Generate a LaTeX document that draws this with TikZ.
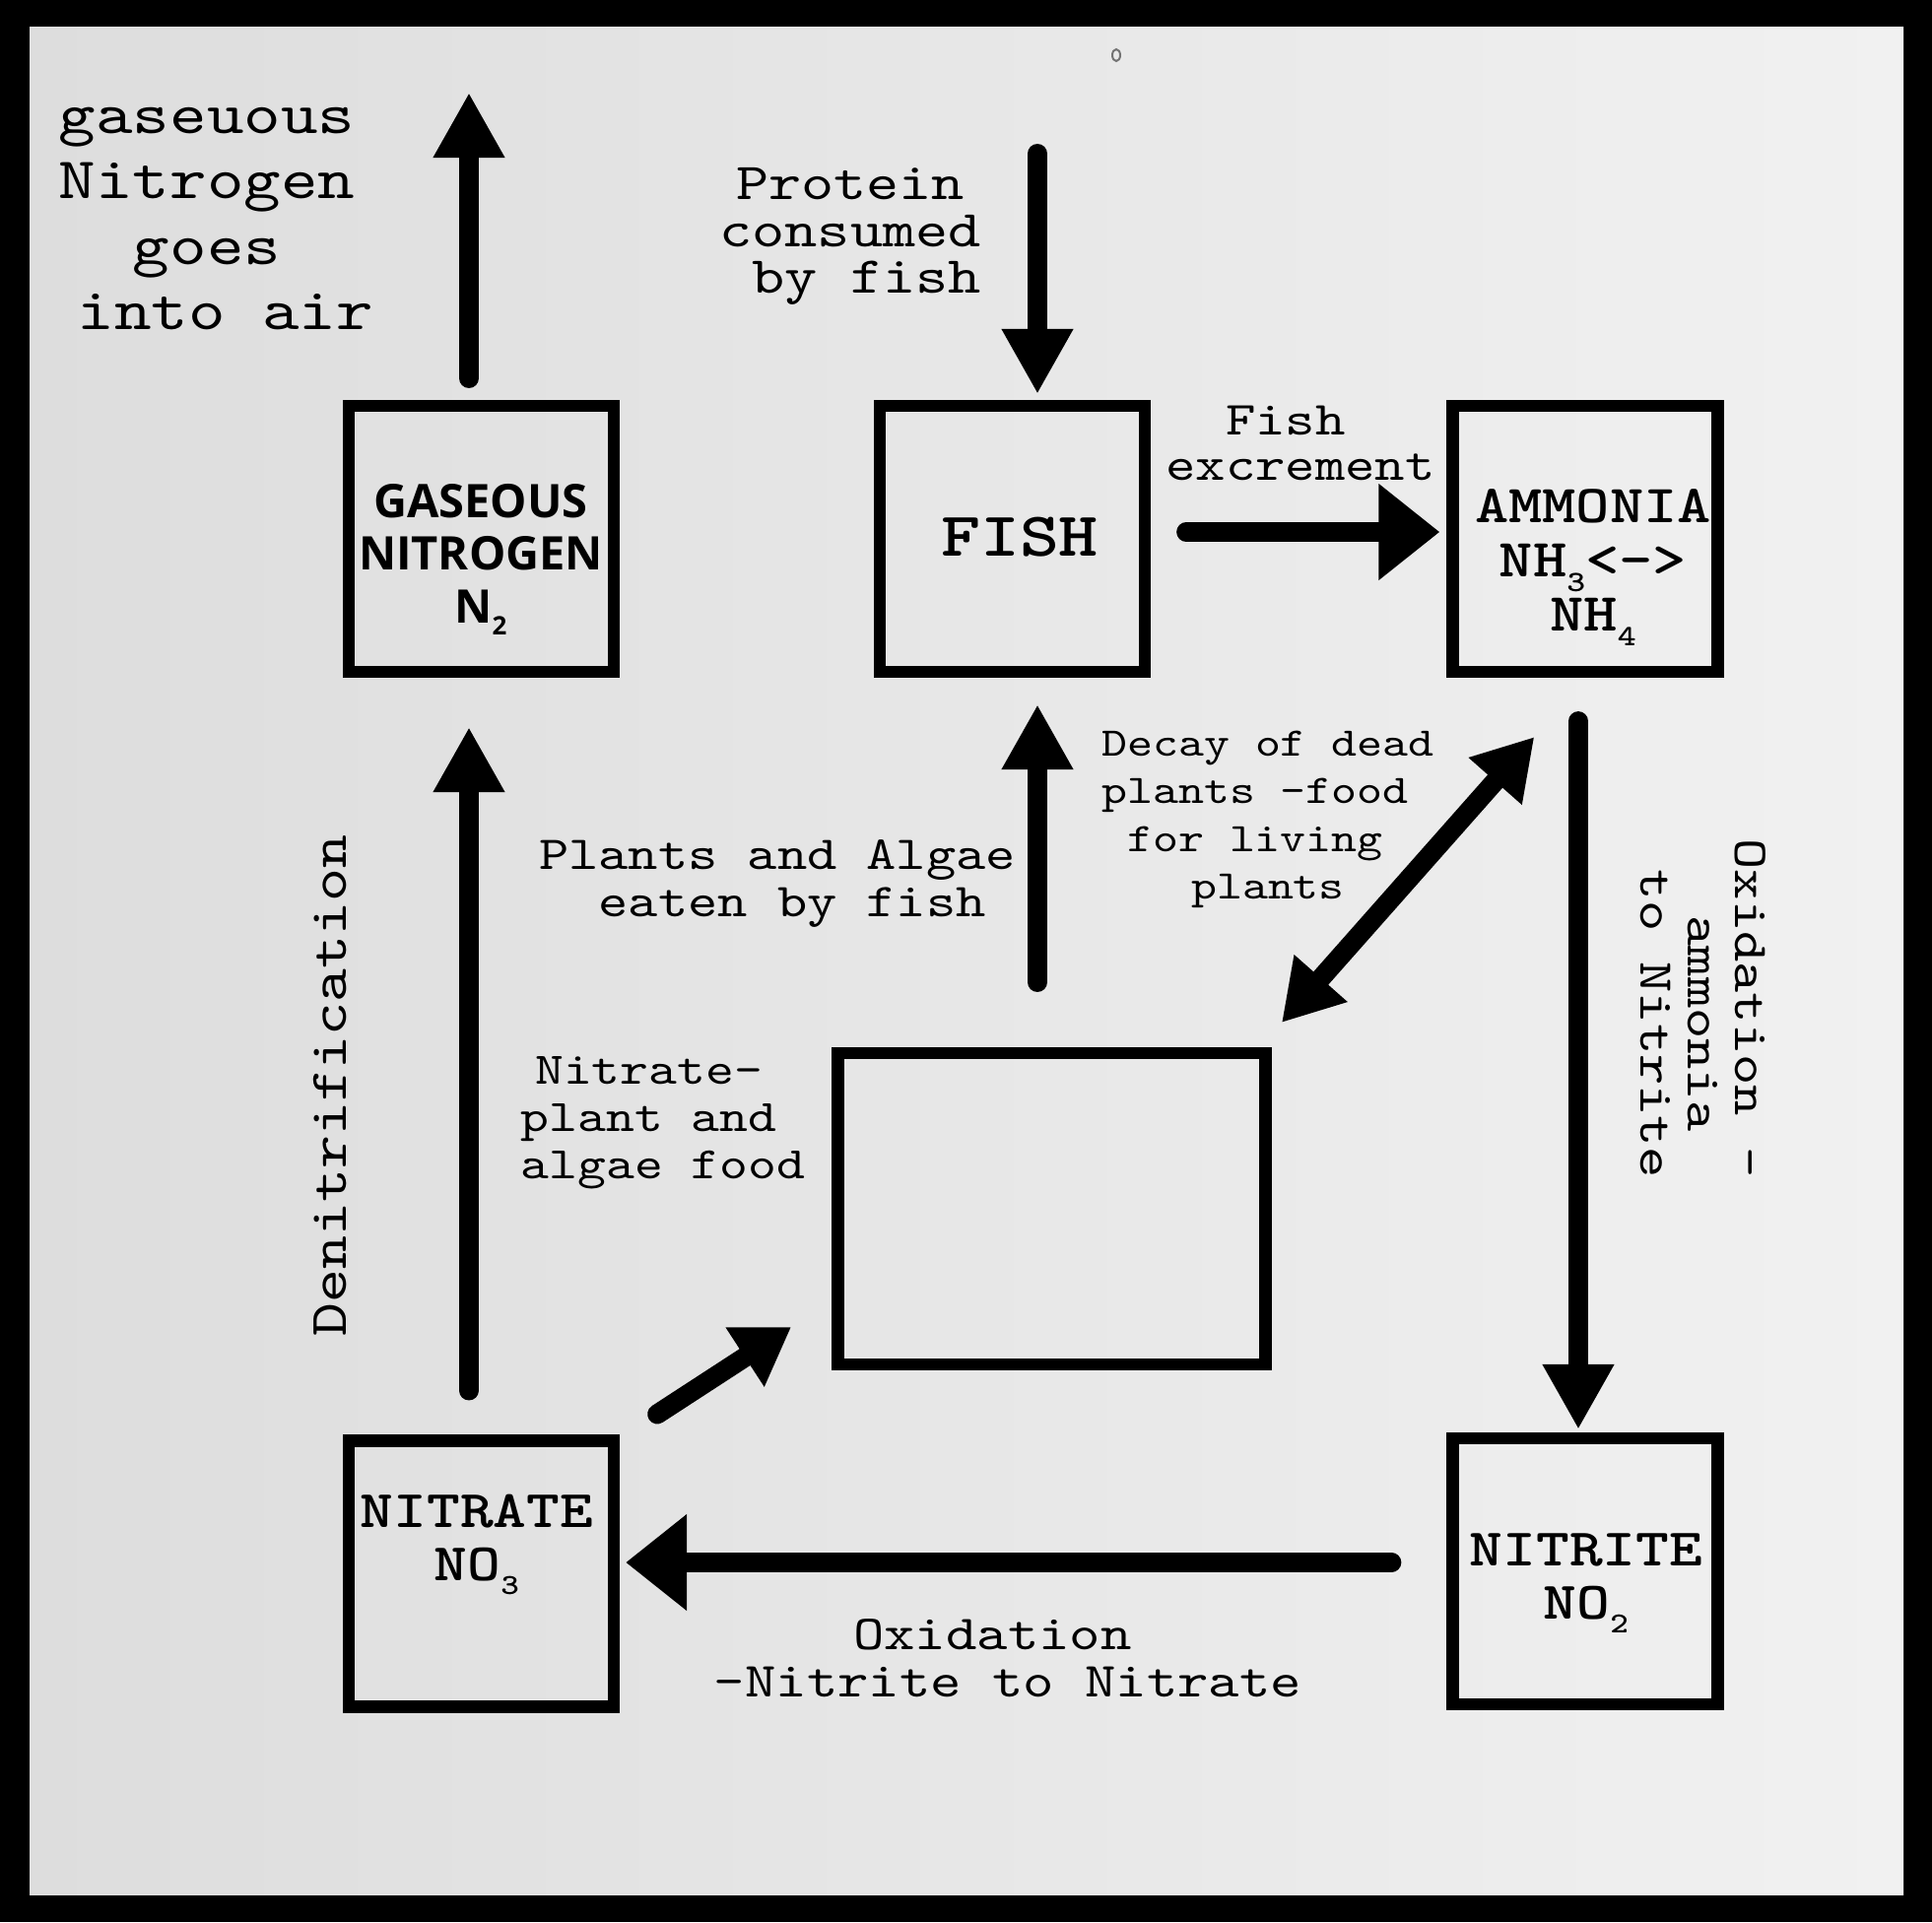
\documentclass[tikz,border=0pt]{standalone}
\usepackage{fontspec}
\usepackage{graphicx}
\usepackage{tikz}
\usetikzlibrary{arrows.meta, calc}
\newfontfamily\typefont{lmmono10-regular.otf}[FakeStretch=1.2, BoldFont=lmmonolt10-bold.otf]
\newfontfamily\gasfont{Open Sans}
\definecolor{paperdark}{RGB}{221,221,221}
\definecolor{paperlight}{RGB}{241,241,241}
\newcommand\chemsub[1]{\raisebox{-0.26em}{\scalebox{0.55}{#1}}}
\newcommand\pad{\phantom{x}}

\begin{document}
\begin{tikzpicture}[x=0.5pt, y=-0.5pt,
    box/.style={draw=black, line width=6.25pt, minimum width=134.4pt, minimum height=134.8pt, inner sep=0pt},
    flow/.style={line width=10pt, line cap=round, -{Triangle[width=34pt,length=33pt]}},
    wideflow/.style={line width=10pt, line cap=round, -{Triangle[width=47pt,length=31pt]}},
    swap/.style={line width=10pt, {Triangle[width=34pt,length=30pt]}-{Triangle[width=34pt,length=30pt]}},
    nudge/.style={line width=10pt, line cap=round, -{Triangle[width=34pt,length=28pt]}},
    note/.style={align=center, inner sep=0pt},
    boxname/.style={align=center, inner sep=0pt, font={\typefont\bfseries\fontsize{26.8}{27}\selectfont}}]
    \useasboundingbox (0,0) rectangle (1961,1951);
    \fill [black] (0,0) rectangle (1961,1951);
    \shade [left color=paperdark, right color=paperlight] (30,27) rectangle (1932,1923);
    \draw [black!55, line width=1pt] (1133,56) ellipse (4 and 6);

    \node [box] (gas) at (488.5,547) {};
    \node [box] (fish) at (1027.5,547) {};
    \node [box] (ammonia) at (1609,547) {};
    \node [box, minimum width=217.2pt, minimum height=157.8pt] (plant) at (1067.5,1227) {};
    \node [box] (nitrate) at (488.5,1597.5) {};
    \node [box] (nitrite) at (1609,1595) {};

    \node [note, font={\gasfont\bfseries\fontsize{23.5}{26.9}\selectfont}] (gasname) at (488,568) {GASEOUS\\NITROGEN\\N\chemsub{2}};
    \node [boxname, font={\typefont\bfseries\fontsize{31.7}{32}\selectfont}] (fishname) at (1035,545) {FISH};
    \node [boxname, font={\typefont\bfseries\fontsize{27.2}{27.5}\selectfont}] (ammname) at (1617,576) {AMMONIA\\NH\chemsub{3}<->\\NH\chemsub{4}};
    \node [boxname] (nitratename) at (484,1568) {NITRATE\\NO\chemsub{3}};
    \node [boxname] (nitritename) at (1610,1607) {NITRITE\\NO\chemsub{2}};

    \coordinate (air) at (476,94);
    \coordinate (food) at (1053,156);
    \draw [flow, shorten <=11pt] (gas.north -| air) -- (air);
    \draw [flow, shorten >=3pt] (food) -- (fish.north -| food);
    \draw [wideflow, shorten <=18pt, shorten >=3.5pt] ($(fish.east)+(0,-7)$) -- ($(ammonia.west)+(0,-7)$);
    \draw [flow, shorten <=22pt, shorten >=1.5pt] ($(ammonia.south)+(-7,0)$) -- ($(nitrite.north)+(-7,0)$);
    \draw [wideflow, shorten <=28pt, shorten >=3pt] ($(nitrite.west)+(0,-9)$) -- ($(nitrate.east)+(0,-11.5)$);
    \draw [flow, shorten <=22.5pt, shorten >=25pt] (nitrate.north -| air) -- (gas.south -| air);
    \draw [flow, shorten <=33pt, shorten >=13.5pt] (plant.north -| food) -- (fish.south -| food);
    \draw [swap] ($(plant.north east)+(10,-25)$) -- ($(ammonia.south west)+(89,60)$);
    \draw [nudge] ($(nitrate.north east)+(38,-21)$) -- ($(plant.south west)+(-41,-44)$);

    \node [note, font={\typefont\fontsize{29.8}{33.3}\selectfont}] (airtext) at (210,222) {gaseuous\\Nitrogen\\goes\\\pad into air};
    \node [note, font={\typefont\fontsize{26.3}{23.7}\selectfont}] (proteintext) at (863,240) {Protein\\consumed\\\pad by fish};
    \node [note, font={\typefont\fontsize{24.1}{23.4}\selectfont}] (excrementtext) at (1320,450) {Fish\pad\\excrement};
    \node [note, font={\typefont\fontsize{20.6}{24.2}\selectfont}] (decaytext) at (1287,832) {Decay of dead\\plants -food\pad\\for living\pad\\plants};
    \node [note, font={\typefont\fontsize{24}{24.4}\selectfont}] (eatentext) at (789,897) {Plants and Algae\\\pad eaten by fish};
    \node [note, font={\typefont\fontsize{22.9}{24}\selectfont}] (foodtext) at (673,1140) {Nitrate-\pad\\plant and\pad\\algae food};
    \node [note, rotate=90, font={\typefont\fontsize{26.9}{27}\selectfont}] (denittext) at (335,1102) {Denitrification};
    \node [note, rotate=-90, font={\typefont\fontsize{24.8}{24}\selectfont}] (ammoxtext) at (1729,1039) {Oxidation -\pad\\ammonia\\to Nitrite};
    \node [note, font={\typefont\fontsize{24.9}{23.8}\selectfont}] (nitroxtext) at (1023,1683) {Oxidation\pad\\-Nitrite to Nitrate};
\end{tikzpicture}
\end{document}
